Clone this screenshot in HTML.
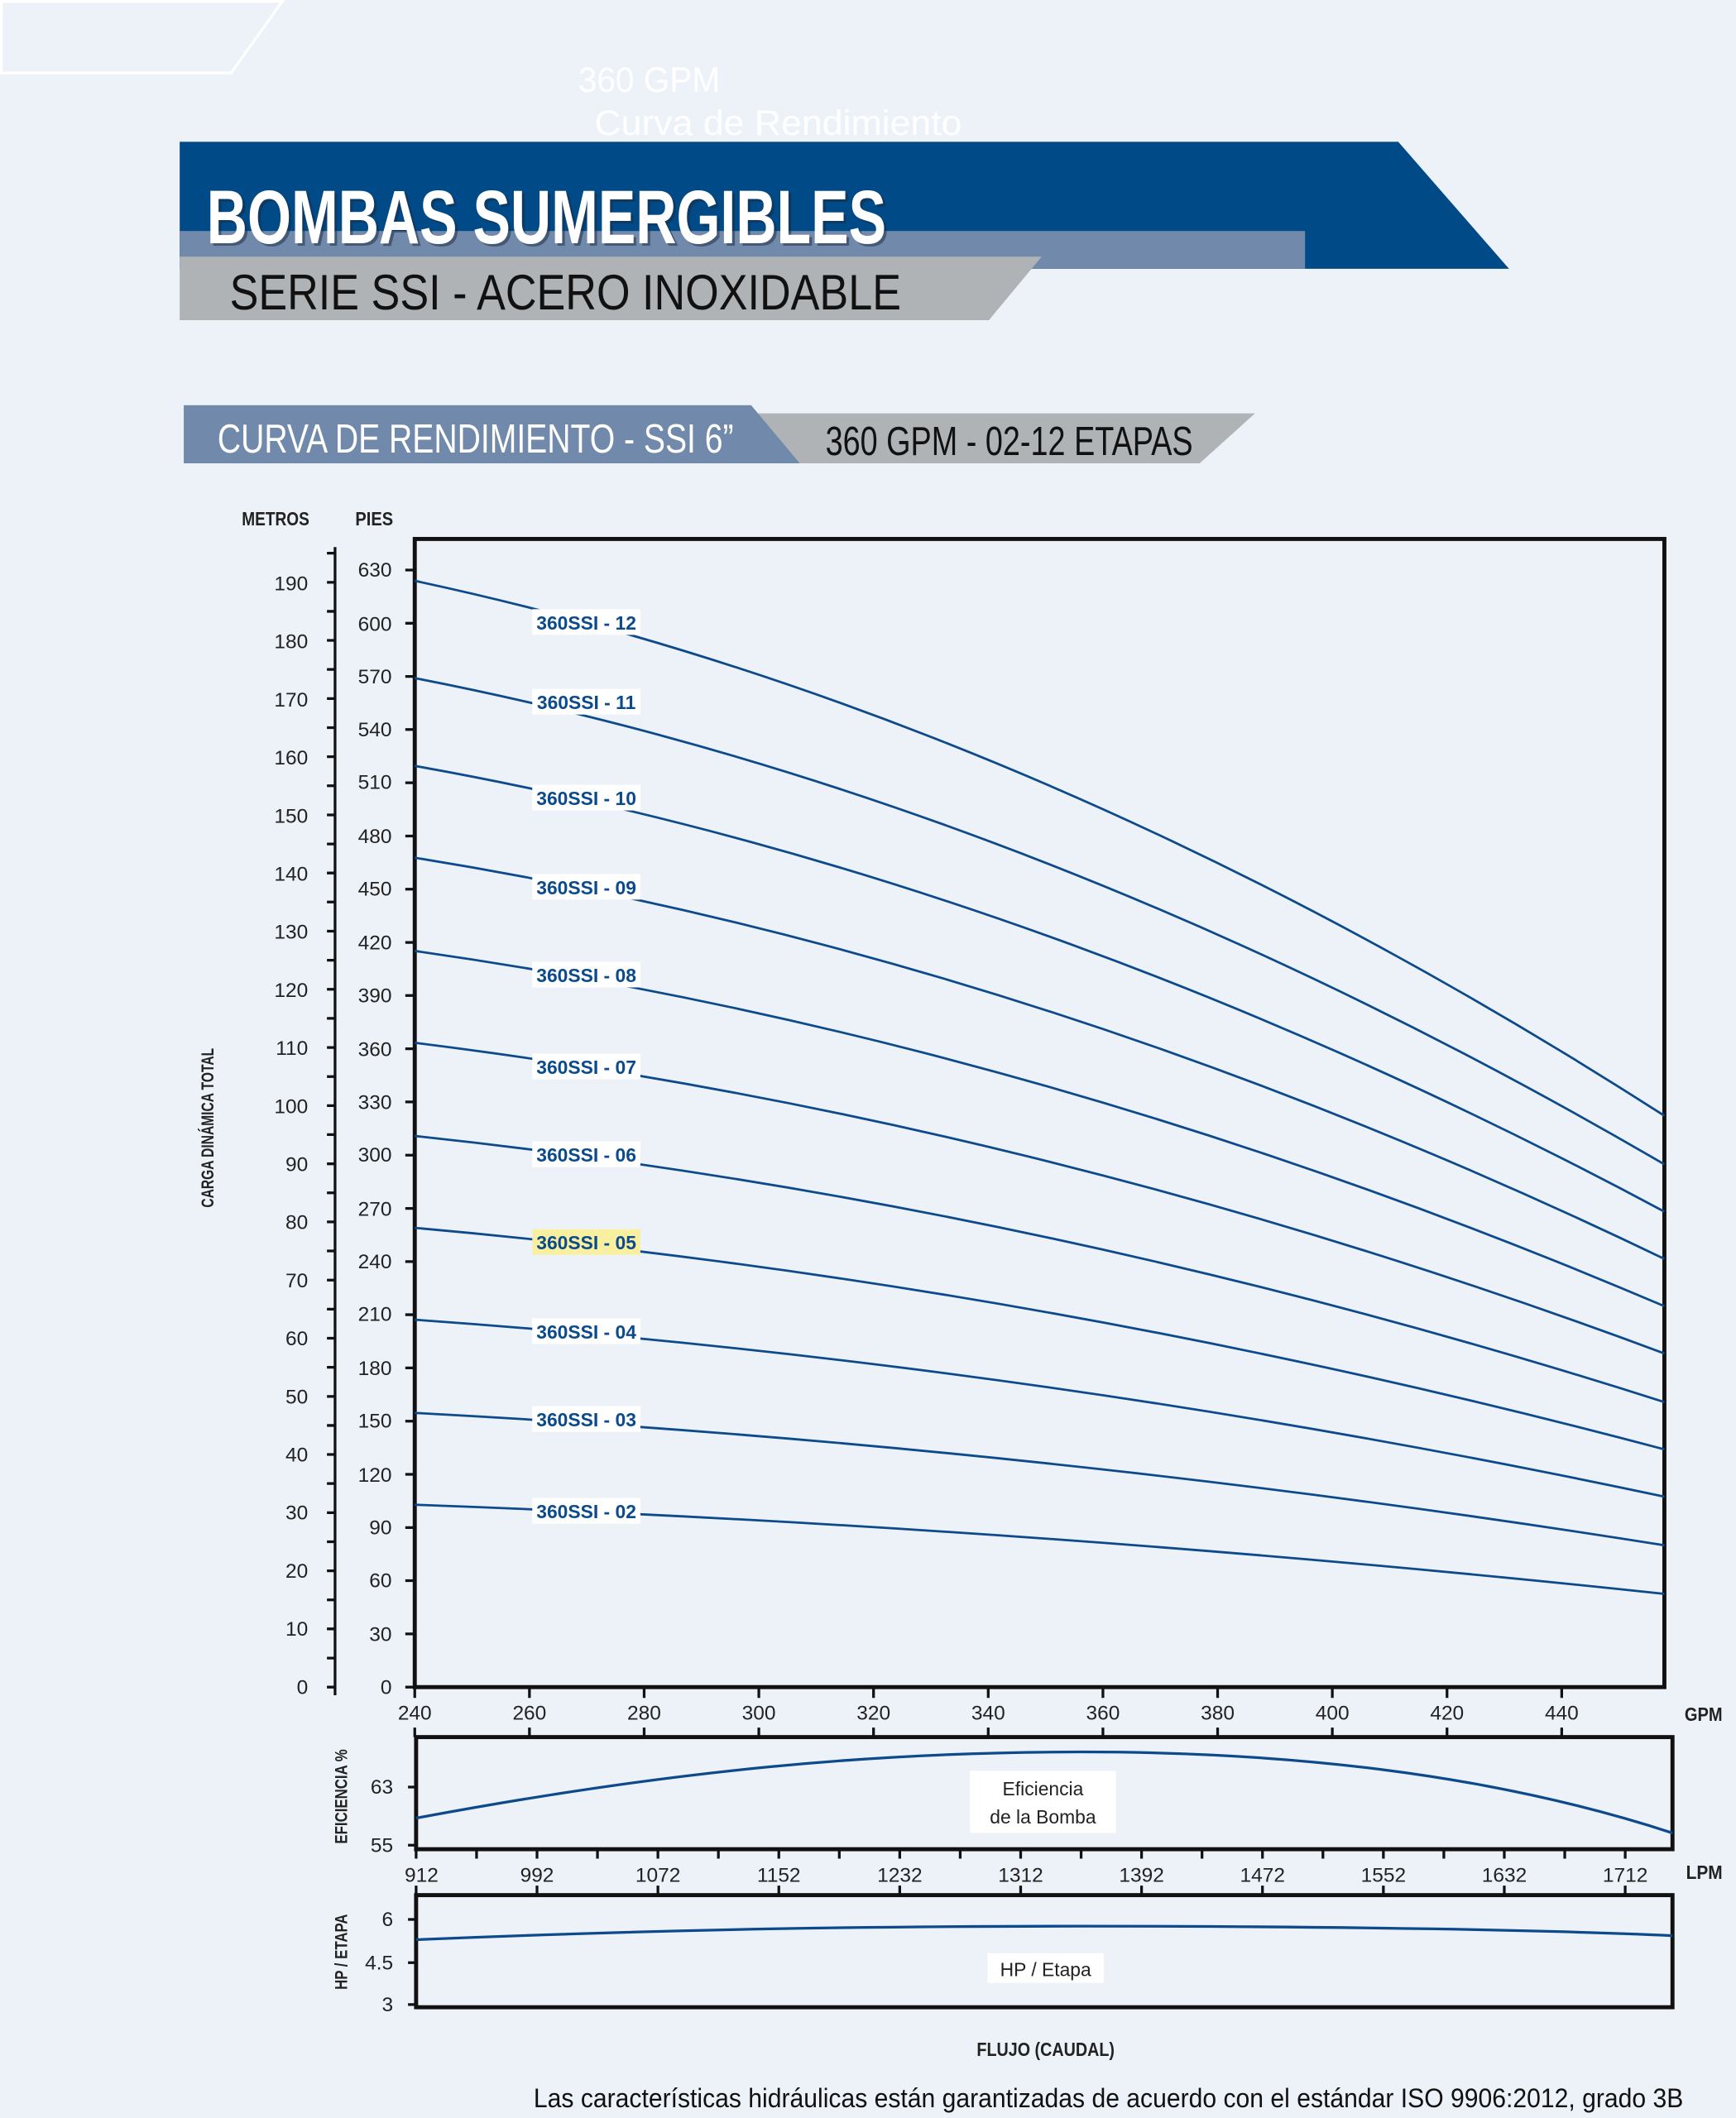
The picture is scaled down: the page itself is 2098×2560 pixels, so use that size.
<!DOCTYPE html>
<html><head><meta charset="utf-8"><style>
html,body{margin:0;padding:0;background:#edf2f9}
svg{display:block}
text{font-family:"Liberation Sans Narrow","Liberation Sans",sans-serif}
.t{font-size:15px;fill:#222}
.b{font-weight:bold}
.lab{font-size:14px;font-weight:bold;fill:#0b4a8b}
</style></head><body>
<svg width="2098" height="2560" viewBox="0 0 1285 1568" xmlns="http://www.w3.org/2000/svg">
<rect width="1285" height="1568" fill="#edf2f9"/>
<polygon points="1,1 209,1 171,54 1,54" fill="none" stroke="#fff" stroke-width="2"/>
<text x="428" y="68" font-size="26" fill="#fff" textLength="105" lengthAdjust="spacingAndGlyphs">360 GPM</text>
<text x="440" y="100" font-size="26" fill="#fff" textLength="272" lengthAdjust="spacingAndGlyphs">Curva de Rendimiento</text>
<polygon points="133,105 1035,105 1117,199 133,199" fill="#004a87"/>
<rect x="133" y="171" width="833" height="28" fill="#7189aa"/>
<polygon points="133,190 771,190 732,237 133,237" fill="#b0b3b6"/>
<text x="155" y="182" font-size="56" font-weight="bold" fill="#1a2a40" opacity="0.5" textLength="503" lengthAdjust="spacingAndGlyphs">BOMBAS SUMERGIBLES</text>
<text x="153" y="180" font-size="56" font-weight="bold" fill="#fff" textLength="503" lengthAdjust="spacingAndGlyphs">BOMBAS SUMERGIBLES</text>
<text x="170" y="229" font-size="37" fill="#111" textLength="497" lengthAdjust="spacingAndGlyphs">SERIE SSI - ACERO INOXIDABLE</text>
<polygon points="557,306 929,306 888,343 592,343" fill="#b0b3b6"/>
<polygon points="136,300 556,300 592,343 136,343" fill="#7189aa"/>
<text x="161" y="335" font-size="30" fill="#fff" textLength="382" lengthAdjust="spacingAndGlyphs">CURVA DE RENDIMIENTO - SSI 6”</text>
<text x="611" y="337" font-size="30" fill="#111" textLength="272" lengthAdjust="spacingAndGlyphs">360 GPM - 02-12 ETAPAS</text>

<text x="179" y="389" class="b" font-size="14" fill="#222" textLength="50" lengthAdjust="spacingAndGlyphs">METROS</text>
<text x="263" y="389" class="b" font-size="14" fill="#222" textLength="28" lengthAdjust="spacingAndGlyphs">PIES</text>
<text transform="translate(158,835) rotate(-90)" text-anchor="middle" class="b" font-size="13" fill="#222" textLength="118" lengthAdjust="spacingAndGlyphs">CARGA DINÁMICA TOTAL</text>

<line x1="248" y1="405" x2="248" y2="1255" stroke="#111" stroke-width="2"/>
<path stroke="#111" stroke-width="2" d="M242,1249H248M242,1227.5H248M242,1205.9H248M242,1184.4H248M242,1162.9H248M242,1141.4H248M242,1119.9H248M242,1098.3H248M242,1076.8H248M242,1055.3H248M242,1033.8H248M242,1012.2H248M242,990.7H248M242,969.2H248M242,947.7H248M242,926.1H248M242,904.6H248M242,883.1H248M242,861.6H248M242,840H248M242,818.5H248M242,797H248M242,775.5H248M242,753.9H248M242,732.4H248M242,710.9H248M242,689.4H248M242,667.8H248M242,646.3H248M242,624.8H248M242,603.3H248M242,581.7H248M242,560.2H248M242,538.7H248M242,517.2H248M242,495.6H248M242,474.1H248M242,452.6H248M242,431.1H248M242,409.5H248"/>
<g class="t" text-anchor="end">
<text x="228" y="1254">0</text><text x="228" y="1211">10</text><text x="228" y="1168">20</text><text x="228" y="1125">30</text><text x="228" y="1082">40</text><text x="228" y="1039">50</text><text x="228" y="996">60</text><text x="228" y="953">70</text><text x="228" y="910">80</text><text x="228" y="867">90</text><text x="228" y="824">100</text><text x="228" y="781">110</text><text x="228" y="738">120</text><text x="228" y="695">130</text><text x="228" y="652">140</text><text x="228" y="609">150</text><text x="228" y="566">160</text><text x="228" y="523">170</text><text x="228" y="480">180</text><text x="228" y="437">190</text>
</g>
<path stroke="#111" stroke-width="2" d="M300,1249H307M300,1209.6H307M300,1170.2H307M300,1130.9H307M300,1091.5H307M300,1052.1H307M300,1012.7H307M300,973.3H307M300,934H307M300,894.6H307M300,855.2H307M300,815.8H307M300,776.4H307M300,737H307M300,697.7H307M300,658.3H307M300,618.9H307M300,579.5H307M300,540.1H307M300,500.8H307M300,461.4H307M300,422H307"/>
<g class="t" text-anchor="end">
<text x="290" y="1254">0</text><text x="290" y="1215">30</text><text x="290" y="1175">60</text><text x="290" y="1136">90</text><text x="290" y="1097">120</text><text x="290" y="1057">150</text><text x="290" y="1018">180</text><text x="290" y="978">210</text><text x="290" y="939">240</text><text x="290" y="900">270</text><text x="290" y="860">300</text><text x="290" y="821">330</text><text x="290" y="782">360</text><text x="290" y="742">390</text><text x="290" y="703">420</text><text x="290" y="663">450</text><text x="290" y="584">510</text><text x="290" y="624">480</text><text x="290" y="545">540</text><text x="290" y="506">570</text><text x="290" y="467">600</text><text x="290" y="427">630</text>
</g>

<rect x="307" y="399" width="925" height="850" fill="none" stroke="#111" stroke-width="3"/>
<g fill="none" stroke="#0d4a8c" stroke-width="1.7">
<path d="M307,430 Q769.5,529 1232,826"/>
<path d="M307,502 Q769.5,592 1232,862"/>
<path d="M307,567 Q769.5,649.5 1232,897"/>
<path d="M307,635 Q769.5,709.25 1232,932"/>
<path d="M307,704 Q769.5,769.75 1232,967"/>
<path d="M307,772 Q769.5,829.5 1232,1002"/>
<path d="M307,841 Q769.5,890.25 1232,1038"/>
<path d="M307,909 Q769.5,950 1232,1073"/>
<path d="M307,977 Q769.5,1009.75 1232,1108"/>
<path d="M307,1046 Q769.5,1070.5 1232,1144"/>
<path d="M307,1114 Q769.5,1130.5 1232,1180"/>
</g>
<g>
<rect x="394" y="451" width="80" height="19" fill="#fff"/><text x="434" y="466" class="lab" text-anchor="middle">360SSI - 12</text>
<rect x="394" y="510" width="80" height="19" fill="#fff"/><text x="434" y="525" class="lab" text-anchor="middle">360SSI - 11</text>
<rect x="394" y="581" width="80" height="19" fill="#fff"/><text x="434" y="596" class="lab" text-anchor="middle">360SSI - 10</text>
<rect x="394" y="647" width="80" height="19" fill="#fff"/><text x="434" y="662" class="lab" text-anchor="middle">360SSI - 09</text>
<rect x="394" y="712" width="80" height="19" fill="#fff"/><text x="434" y="727" class="lab" text-anchor="middle">360SSI - 08</text>
<rect x="394" y="780" width="80" height="19" fill="#fff"/><text x="434" y="795" class="lab" text-anchor="middle">360SSI - 07</text>
<rect x="394" y="845" width="80" height="19" fill="#fff"/><text x="434" y="860" class="lab" text-anchor="middle">360SSI - 06</text>
<rect x="394" y="910" width="80" height="19" fill="#f8f0a0"/><text x="434" y="925" class="lab" text-anchor="middle">360SSI - 05</text>
<rect x="394" y="976" width="80" height="19" fill="#fff"/><text x="434" y="991" class="lab" text-anchor="middle">360SSI - 04</text>
<rect x="394" y="1041" width="80" height="19" fill="#fff"/><text x="434" y="1056" class="lab" text-anchor="middle">360SSI - 03</text>
<rect x="394" y="1109" width="80" height="19" fill="#fff"/><text x="434" y="1124" class="lab" text-anchor="middle">360SSI - 02</text>
</g>

<path stroke="#111" stroke-width="2" d="M307,1249V1257M391.9,1249V1257M476.8,1249V1257M561.7,1249V1257M646.6,1249V1257M731.5,1249V1257M816.4,1249V1257M901.3,1249V1257M986.2,1249V1257M1071.1,1249V1257M1156,1249V1257
M307,1279V1286M391.9,1279V1286M476.8,1279V1286M561.7,1279V1286M646.6,1279V1286M731.5,1279V1286M816.4,1279V1286M901.3,1279V1286M986.2,1279V1286M1071.1,1279V1286M1156,1279V1286"/>
<g class="t" text-anchor="middle">
<text x="307" y="1273">240</text><text x="391.9" y="1273">260</text><text x="476.8" y="1273">280</text><text x="561.7" y="1273">300</text><text x="646.6" y="1273">320</text><text x="731.5" y="1273">340</text><text x="816.4" y="1273">360</text><text x="901.3" y="1273">380</text><text x="986.2" y="1273">400</text><text x="1071.1" y="1273">420</text><text x="1156" y="1273">440</text>
</g>
<text x="1247" y="1274" class="b" font-size="14" fill="#222" textLength="28" lengthAdjust="spacingAndGlyphs">GPM</text>

<rect x="308" y="1286" width="930" height="83" fill="none" stroke="#111" stroke-width="3"/>
<path d="M308,1346 C500,1310 650,1297 800,1297 C950,1297 1100,1312 1238,1357" fill="none" stroke="#0d4a8c" stroke-width="2"/>
<rect x="718" y="1311" width="108" height="46" fill="#fff"/>
<text x="772" y="1329" font-size="14" fill="#222" text-anchor="middle">Eficiencia</text>
<text x="772" y="1350" font-size="14" fill="#222" text-anchor="middle">de la Bomba</text>
<path stroke="#111" stroke-width="2" d="M302,1323H308M302,1366H308"/>
<g class="t" text-anchor="end"><text x="291" y="1328">63</text><text x="291" y="1371">55</text></g>
<text transform="translate(257,1330) rotate(-90)" text-anchor="middle" class="b" font-size="13" fill="#222" textLength="70" lengthAdjust="spacingAndGlyphs">EFICIENCIA %</text>

<path stroke="#111" stroke-width="2" d="M308,1369V1376M352.75,1369V1376M397.5,1369V1376M442.25,1369V1376M487,1369V1376M531.75,1369V1376M576.5,1369V1376M621.25,1369V1376M666,1369V1376M710.75,1369V1376M755.5,1369V1376M800.25,1369V1376M845,1369V1376M889.75,1369V1376M934.5,1369V1376M979.25,1369V1376M1024,1369V1376M1068.75,1369V1376M1113.5,1369V1376M1158.25,1369V1376M1203,1369V1376
M308,1396V1403M397.5,1396V1403M487,1396V1403M576.5,1396V1403M666,1396V1403M755.5,1396V1403M845,1396V1403M934.5,1396V1403M1024,1396V1403M1113.5,1396V1403M1203,1396V1403"/>
<g class="t" text-anchor="middle">
<text x="312" y="1393">912</text><text x="397.5" y="1393">992</text><text x="487" y="1393">1072</text><text x="576.5" y="1393">1152</text><text x="666" y="1393">1232</text><text x="755.5" y="1393">1312</text><text x="845" y="1393">1392</text><text x="934.5" y="1393">1472</text><text x="1024" y="1393">1552</text><text x="1113.5" y="1393">1632</text><text x="1203" y="1393">1712</text>
</g>
<text x="1248" y="1391" class="b" font-size="14" fill="#222" textLength="27" lengthAdjust="spacingAndGlyphs">LPM</text>

<rect x="308" y="1403" width="930" height="83" fill="none" stroke="#111" stroke-width="3"/>
<path d="M308,1436 C500,1428 650,1426 800,1426 C1000,1426 1150,1429 1238,1433" fill="none" stroke="#0d4a8c" stroke-width="2"/>
<rect x="731" y="1446" width="86" height="22" fill="#fff"/>
<text x="774" y="1463" font-size="14" fill="#222" text-anchor="middle">HP / Etapa</text>
<path stroke="#111" stroke-width="2" d="M302,1421H308M302,1453H308M302,1484H308"/>
<g class="t" text-anchor="end"><text x="291" y="1426">6</text><text x="291" y="1458">4.5</text><text x="291" y="1489">3</text></g>
<text transform="translate(257,1445) rotate(-90)" text-anchor="middle" class="b" font-size="13" fill="#222" textLength="56" lengthAdjust="spacingAndGlyphs">HP / ETAPA</text>

<text x="774" y="1522" text-anchor="middle" class="b" font-size="14" fill="#222" textLength="102" lengthAdjust="spacingAndGlyphs">FLUJO (CAUDAL)</text>
<text x="395" y="1560" font-size="20" fill="#111" textLength="851" lengthAdjust="spacingAndGlyphs">Las características hidráulicas están garantizadas de acuerdo con el estándar ISO 9906:2012, grado 3B</text>
</svg>
</body></html>
